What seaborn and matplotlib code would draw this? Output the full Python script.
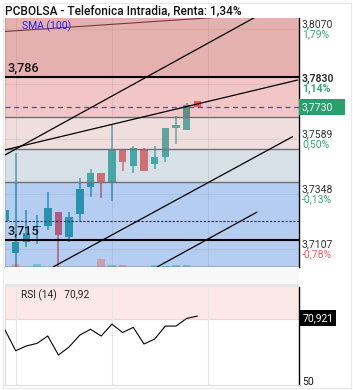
import numpy as np
import pandas as pd
import matplotlib
matplotlib.use("Agg")
import matplotlib.pyplot as plt
import seaborn as sns
from matplotlib.patches import Rectangle
from matplotlib.transforms import blended_transform_factory

sns.set_style("white")
plt.rcParams['font.family'] = ['Roboto', 'DejaVu Sans']

# ---------------- data ----------------
bar_index = list(range(19))
opens = [3.7231, 3.7091, 3.7139, 3.7205, 3.7211, 3.7272, 3.7161, 3.7263, 3.7381, 3.7441,
         3.7403, 3.7542, 3.7473, 3.7542, 3.7481, 3.7513, 3.7639, 3.7629, 3.7758]
closes = [3.7279, 3.7139, 3.7179, 3.7209, 3.7288, 3.7170, 3.7249, 3.7371, 3.7440, 3.7402,
          3.7542, 3.7491, 3.7549, 3.7451, 3.7510, 3.7637, 3.7651, 3.7739, 3.7730]
highs = [3.7290, 3.7529, 3.7279, 3.7257, 3.7358, 3.7272, 3.7272, 3.7419, 3.7460, 3.7441,
         3.7651, 3.7542, 3.7559, 3.7549, 3.7559, 3.7637, 3.7691, 3.7749, 3.7758]
lows = [3.7225, 3.7000, 3.7117, 3.7130, 3.7192, 3.7031, 3.7141, 3.7231, 3.7337, 3.7330,
        3.7320, 3.7451, 3.7440, 3.7451, 3.7457, 3.7491, 3.7567, 3.7629, 3.7730]
volumes = [0.5, 3, 0.5, 3, 0.5, 0.5, 0.5, 0.5, 0.5, 8, 2.5, 2, 0.5, 0.5, 2, 1.5, 2, 2, 0.5]
rsi = [66.6, 60.1, 61.6, 62.4, 64.7, 58.75, 61.3, 65.0, 66.8, 64.7,
       68.4, 65.8, 67.4, 62.2, 63.75, 67.8, 67.8, 70.2, 70.92]

day_index = [1, 10, 19]
day_labels = ["", "27", "28"]

price_ticks = [3.8070, 3.7830, 3.7589, 3.7348, 3.7107]
price_tick_labels = ["3,8070", "3,7830", "3,7589", "3,7348", "3,7107"]
pct_tick_labels = ["1,79%", "1,14%", "0,50%", "-0,13%", "-0,78%"]

# support / resistance levels and zones
level_high, level_low = 3.786, 3.715
zone_edges = [3.8200, 3.786, 3.7688, 3.7545, 3.7400, 3.6990]
zone_colors = [(181/255, 29/255, 29/255, 0.35), (218/255, 92/255, 92/255, 0.35),
               (212/255, 161/255, 161/255, 0.35), (144/255, 167/255, 189/255, 0.35),
               (44/255, 112/255, 212/255, 0.35)]
gray_levels = [3.7688, 3.7545, 3.7400]
last_price = 3.7730
prev_close = 3.7231

# trend lines (start idx, start price, end idx, end price)
trend_x0 = [0.0, 0.0, 0.0, 4.53, 14.22]
trend_y0 = [3.8060, 3.7520, 3.7542, 3.7031, 3.7030]
trend_x1 = [27.5, 27.5, 27.4, 26.9, 23.57]
trend_y1 = [3.8146, 3.8228, 3.7848, 3.7600, 3.7270]
trend_colors = ["#7a3a3a", "black", "black", "black", "black"]
trend_widths = [0.8, 0.9, 0.9, 0.9, 0.9]

df = pd.DataFrame({"idx": bar_index, "open": opens, "close": closes,
                   "high": highs, "low": lows, "vol": volumes, "rsi": rsi})

W, H = 353, 390
fig = plt.figure(figsize=(W / 100, H / 100), dpi=100)
fig.patch.set_facecolor("white")

# x-axis strip background
fig.patches.append(Rectangle((5 / W, (H - 284) / H), 294 / W, 17 / H, transform=fig.transFigure,
                             facecolor="#f8f8f8", edgecolor="none", zorder=0))
fig.patches.append(Rectangle((5 / W, (H - 287) / H), 294 / W, 3 / H, transform=fig.transFigure,
                             facecolor="#e4e4e4", edgecolor="none", zorder=0))

ax = fig.add_axes([5 / W, (H - 267) / H, 294 / W, 249 / H])
ax.set_facecolor("white")
XMIN, XMAX = 0.0, 27.5
YMIN, YMAX = 3.7030, 3.8119

up_col = "#26a69a"
dn_col = "#ef5350"
cols = [up_col if c >= o else dn_col for o, c in zip(df.open, df.close)]

# wicks and bodies
ax.vlines(df.idx, df.low, df.high, colors=cols, linewidth=1.1, zorder=2)
body_bottom = np.minimum(df.open, df.close)
body_height = np.maximum(np.abs(df.close - df.open), 0.0003)
ax.bar(df.idx, body_height, bottom=body_bottom, width=0.7, color=cols, linewidth=0, zorder=2)

# zones (translucent overlays)
for i, c in enumerate(zone_colors):
    ax.axhspan(zone_edges[i + 1], zone_edges[i], color=c, linewidth=0, zorder=3)

# gridlines
for t in price_ticks:
    ax.axhline(t, color=(0.45, 0.45, 0.5, 0.13), linewidth=0.8, zorder=3.5)
for d in day_index:
    ax.axvline(d, color=(0.45, 0.45, 0.5, 0.15), linewidth=0.8, zorder=3.5)

for g in gray_levels:
    ax.axhline(g, color="#707078", linewidth=1.0, zorder=4)
ax.axhline(level_high, color="black", linewidth=1.5, zorder=5)
ax.axhline(level_low, color="black", linewidth=1.5, zorder=5)
ax.axhline(last_price, color="#5a3fd0", linewidth=0.9, linestyle=(0, (4, 3)), zorder=5)
ax.axhline(prev_close, color="#2a2a60", linewidth=0.8, linestyle=(0, (2, 1.5)), zorder=5)

for x0, y0, x1, y1, c, lw in zip(trend_x0, trend_y0, trend_x1, trend_y1, trend_colors, trend_widths):
    ax.plot([x0, x1], [y0, y1], color=c, linewidth=lw, zorder=6)

ax.set_xlim(XMIN, XMAX)
ax.set_ylim(YMIN, YMAX)
ax.set_xticks([])
ax.set_yticks([])
ax.spines["top"].set_visible(False)
ax.spines["left"].set_color("#dddddd")
ax.spines["right"].set_color("black")
ax.spines["right"].set_linewidth(1.0)
ax.spines["bottom"].set_color("black")
ax.spines["bottom"].set_linewidth(1.0)

# volume on twin axis
axv = ax.twinx()
axv.set_ylim(0, 250)
vcols = [up_col] + [up_col if c >= p else dn_col for p, c in zip(df.close[:-1], df.close[1:])]
vcols = [(matplotlib.colors.to_rgba(c, 0.4)) for c in vcols]
axv.bar(df.idx, df.vol, width=0.7, color=vcols, linewidth=0, zorder=2)
axv.set_xlim(XMIN, XMAX)
axv.set_yticks([])
for s in axv.spines.values():
    s.set_visible(False)

# texts in main panel
ax.text(1.6, 3.8082, "SMA (100)", color="#2020ee", fontsize=7.5, va="center", zorder=7)
ax.text(0.2, level_high + 0.0011, "3,786", color="#111111", fontsize=9.2, va="bottom",
        fontweight="medium", zorder=7)
ax.text(0.2, level_low + 0.0011, "3,715", color="#111111", fontsize=9.2, va="bottom",
        fontweight="medium", zorder=7)

tr = blended_transform_factory(ax.transAxes, ax.transData)
for i, (t, pl, cl) in enumerate(zip(price_ticks, price_tick_labels, pct_tick_labels)):
    w = "bold" if i == 1 else "normal"
    pcol = "#33a877" if t > prev_close else "#f05a60"
    ax.text(1.01, t, pl, transform=tr, fontsize=7.5, color="#333333", va="bottom",
            fontweight=w, clip_on=False)
    ax.text(1.01, t, cl, transform=tr, fontsize=7.5, color=pcol, va="top",
            fontweight=w, clip_on=False)

box_h = 16 / 2285
ax.add_patch(Rectangle((1.0, last_price - box_h / 2), 46 / 294, box_h, transform=tr,
                       facecolor="#27a06e", edgecolor="none", clip_on=False, zorder=8))
ax.text(1.01, last_price, "3,7730", transform=tr, fontsize=7.5, color="white",
        va="center", clip_on=False, zorder=9)

# day labels
for d, lab in zip(day_index, day_labels):
    if lab:
        ax.text(d + 0.15, YMIN - 0.0045, lab, ha="center", va="center", fontsize=8,
                fontweight="bold", color="#222222", clip_on=False)

fig.text(5 / W, 1 - 11 / H, "PCBOLSA - Telefonica Intradia, Renta: 1,34%", fontsize=8.6,
         fontweight="medium", color="#111111", va="center", ha="left")

# ---------------- RSI panel ----------------
ax2 = fig.add_axes([5 / W, (H - 385) / H, 294 / W, 98 / H])
ax2.set_facecolor("white")
ax2.axhspan(70, 80, color="#fde8e8", linewidth=0, zorder=0)
ax2.axhline(70, color="#ead6d6", linewidth=0.8, zorder=1)
for d in day_index:
    ax2.axvline(d, color="#e6e6e6", linewidth=0.8, zorder=1)
sns.lineplot(data=df, x="idx", y="rsi", ax=ax2, color="black", linewidth=0.8, zorder=3)
ax2.set_xlim(XMIN, XMAX)
ax2.set_ylim(49.4, 80)
ax2.set_xlabel("")
ax2.set_ylabel("")
ax2.set_xticks([])
ax2.set_yticks([])
ax2.spines["top"].set_visible(False)
ax2.spines["left"].set_color("#dddddd")
ax2.spines["bottom"].set_color("#dddddd")
ax2.spines["right"].set_color("black")
ax2.spines["right"].set_linewidth(1.0)
ax2.text(0.055, 0.92, "RSI (14)   70,92", transform=ax2.transAxes, fontsize=7.3,
         color="#222222", va="center")
tr2 = blended_transform_factory(ax2.transAxes, ax2.transData)
ax2.text(1.012, rsi[-1] - 0.6, "70,921", transform=tr2, fontsize=7.5, color="white",
         va="center", clip_on=False,
         bbox=dict(boxstyle="square,pad=0.25", facecolor="black", edgecolor="none"))
ax2.text(1.01, 50.3, "50", transform=tr2, fontsize=7.5, color="#111111",
         va="center", clip_on=False)

fig.patches.append(Rectangle((3 / W, 2 / H), 348 / W, 385 / H, transform=fig.transFigure,
                             facecolor="none", edgecolor="#e8e8e8", linewidth=0.8, zorder=10))

fig.savefig("out.png", dpi=100)
